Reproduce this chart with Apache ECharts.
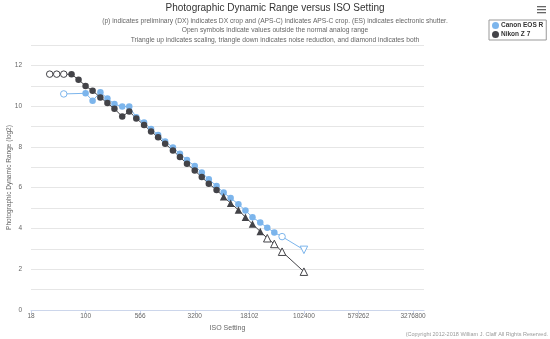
<!DOCTYPE html>
<html>
<head>
<meta charset="utf-8">
<script src="https://cdn.jsdelivr.net/npm/echarts@6/dist/echarts.min.js"></script>
<style>
  html, body { margin: 0; padding: 0; background: #fff; }
  #chart { width: 550px; height: 339px; }
</style>
</head>
<body>
<div id="chart"></div>
<script>
// ISO settings, dynamic range (log2) and marker kind for each camera.
// Marker kinds: c = circle, co = open circle, t = triangle up,
// to = open triangle up, vo = open triangle down.
const canonIso = [50, 100, 125, 160, 200, 250, 320, 400, 500, 640, 800, 1000, 1250, 1600,
  2000, 2500, 3200, 4000, 5000, 6400, 8000, 10000, 12800, 16000, 20000, 25600, 32000,
  40000, 51200, 102400];
const canonPdr = [10.6, 10.63, 10.27, 10.68, 10.38, 10.1, 9.98, 9.98, 9.45, 9.2, 8.88, 8.58,
  8.27, 7.97, 7.66, 7.36, 7.06, 6.74, 6.41, 6.08, 5.76, 5.49, 5.19, 4.88, 4.55, 4.29, 4.04,
  3.8, 3.6, 2.95];
const canonMark = ['co', 'c', 'c', 'c', 'c', 'c', 'c', 'c', 'c', 'c', 'c', 'c', 'c', 'c', 'c',
  'c', 'c', 'c', 'c', 'c', 'c', 'c', 'c', 'c', 'c', 'c', 'c', 'c', 'co', 'vo'];

const nikonIso = [32, 40, 50, 64, 80, 100, 125, 160, 200, 250, 320, 400, 500, 640, 800, 1000,
  1250, 1600, 2000, 2500, 3200, 4000, 5000, 6400, 8000, 10000, 12800, 16000, 20000, 25600,
  32000, 40000, 51200, 102400];
const nikonPdr = [11.57, 11.57, 11.57, 11.56, 11.3, 10.99, 10.75, 10.43, 10.15, 9.87, 9.49,
  9.74, 9.4, 9.07, 8.76, 8.48, 8.15, 7.83, 7.5, 7.17, 6.84, 6.52, 6.19, 5.89, 5.55, 5.24,
  4.91, 4.55, 4.22, 3.85, 3.52, 3.24, 2.86, 1.88];
const nikonMark = ['co', 'co', 'co', 'c', 'c', 'c', 'c', 'c', 'c', 'c', 'c', 'c', 'c', 'c', 'c',
  'c', 'c', 'c', 'c', 'c', 'c', 'c', 'c', 'c', 't', 't', 't', 't', 't', 't', 'to', 'to', 'to', 'to'];

// Axis tick labels (ISO values spaced 2.5 stops apart)
const isoTicks = ['18', '100', '566', '3200', '18102', '102400', '579262', '3276800'];

const cameras = [
  { name: 'Canon EOS R', color: '#7cb5ec', iso: canonIso, pdr: canonPdr, mark: canonMark },
  { name: 'Nikon Z 7', color: '#434348', iso: nikonIso, pdr: nikonPdr, mark: nikonMark }
];

// Stops relative to ISO 100
const toStops = iso => Math.log2(iso / 100);

function point(cam, i) {
  const k = cam.mark[i];
  const open = k.endsWith('o');
  const symbol = k[0] === 'c' ? 'circle' : 'triangle';
  return {
    value: [toStops(cam.iso[i]), cam.pdr[i]],
    symbol: symbol,
    symbolRotate: k[0] === 'v' ? 180 : 0,
    symbolSize: symbol === 'circle' ? 6.5 : 7.5,
    itemStyle: {
      color: open ? '#ffffff' : cam.color,
      borderColor: cam.color,
      borderWidth: open ? 1 : 0
    }
  };
}

const series = cameras.map(cam => ({
  name: cam.name,
  type: 'line',
  color: cam.color,
  lineStyle: { width: 1, color: cam.color },
  showAllSymbol: true,
  animation: false,
  data: cam.iso.map((_, i) => point(cam, i))
}));

const tickStops = isoTicks.map((_, i) => -2.5 + 2.5 * i);

const chart = echarts.init(document.getElementById('chart'), null, { renderer: 'canvas' });
chart.setOption({
  animation: false,
  backgroundColor: '#ffffff',
  textStyle: { fontFamily: 'Liberation Sans, Arial, sans-serif' },
  title: [
    {
      text: 'Photographic Dynamic Range versus ISO Setting',
      left: 275, top: 3, textAlign: 'center', padding: 0,
      textStyle: { fontSize: 10, fontWeight: 'normal', color: '#333333' }
    },
    {
      text: '(p) indicates preliminary (DX) indicates DX crop and (APS-C) indicates APS-C crop. (ES) indicates electronic shutter.\n' +
            'Open symbols indicate values outside the normal analog range\n' +
            'Triangle up indicates scaling, triangle down indicates noise reduction, and diamond indicates both',
      left: 275, top: 16, textAlign: 'center', padding: 0,
      textStyle: { fontSize: 6.7, fontWeight: 'normal', color: '#666666', lineHeight: 9.5, align: 'center' }
    },
    {
      text: '(Copyright 2012-2018 William J. Claff All Rights Reserved.',
      right: 2, bottom: 2, padding: 0,
      textStyle: { fontSize: 5.5, fontWeight: 'normal', color: '#999999' }
    }
  ],
  legend: {
    left: 489, top: 20,
    orient: 'vertical',
    icon: 'circle',
    itemWidth: 7, itemHeight: 7, itemGap: 2,
    padding: [2, 3, 2, 3],
    borderColor: '#999999', borderWidth: 1, borderRadius: 0,
    textStyle: { fontSize: 6.5, fontWeight: 'bold', color: '#333333', padding: [0, 0, 0, -3] },
    data: cameras.map(c => c.name)
  },
  grid: { left: 31, right: 126, top: 45, bottom: 29, containLabel: false, outerBoundsMode: 'none' },
  xAxis: {
    type: 'value',
    min: -2.5, max: 15.5,
    interval: 2.5,
    name: 'ISO Setting',
    nameLocation: 'middle',
    nameGap: 14,
    nameTextStyle: { fontSize: 7, color: '#666666' },
    axisLine: { show: true, lineStyle: { color: '#ccd6eb' } },
    axisTick: { show: true, length: 4, lineStyle: { color: '#ccd6eb' },
      customValues: tickStops },
    axisLabel: { fontSize: 6.5, color: '#666666', margin: 3,
      customValues: tickStops,
      formatter: v => {
        const i = Math.round((v + 2.5) / 2.5);
        return Math.abs(v - tickStops[i]) < 1e-6 ? isoTicks[i] : '';
      } },
    splitLine: { show: false }
  },
  yAxis: {
    type: 'value',
    min: 0, max: 13, interval: 1,
    name: 'Photographic Dynamic Range (log2)',
    nameLocation: 'middle',
    nameGap: 18,
    nameMoveOverlap: false,
    nameTextStyle: { fontSize: 6.5, color: '#666666' },
    axisLine: { show: false },
    axisTick: { show: false },
    axisLabel: { fontSize: 6.5, color: '#666666', margin: 9,
      formatter: v => (v % 2 === 0 ? String(v) : '') },
    splitLine: { show: true, lineStyle: { color: '#e6e6e6', width: 1 } }
  },
  graphic: [
    // export menu icon
    { type: 'rect', shape: { x: 537, y: 6, width: 9, height: 1.3 }, style: { fill: '#666666' } },
    { type: 'rect', shape: { x: 537, y: 9, width: 9, height: 1.3 }, style: { fill: '#666666' } },
    { type: 'rect', shape: { x: 537, y: 12, width: 9, height: 1.3 }, style: { fill: '#666666' } }
  ],
  series: series
});
</script>
</body>
</html>
